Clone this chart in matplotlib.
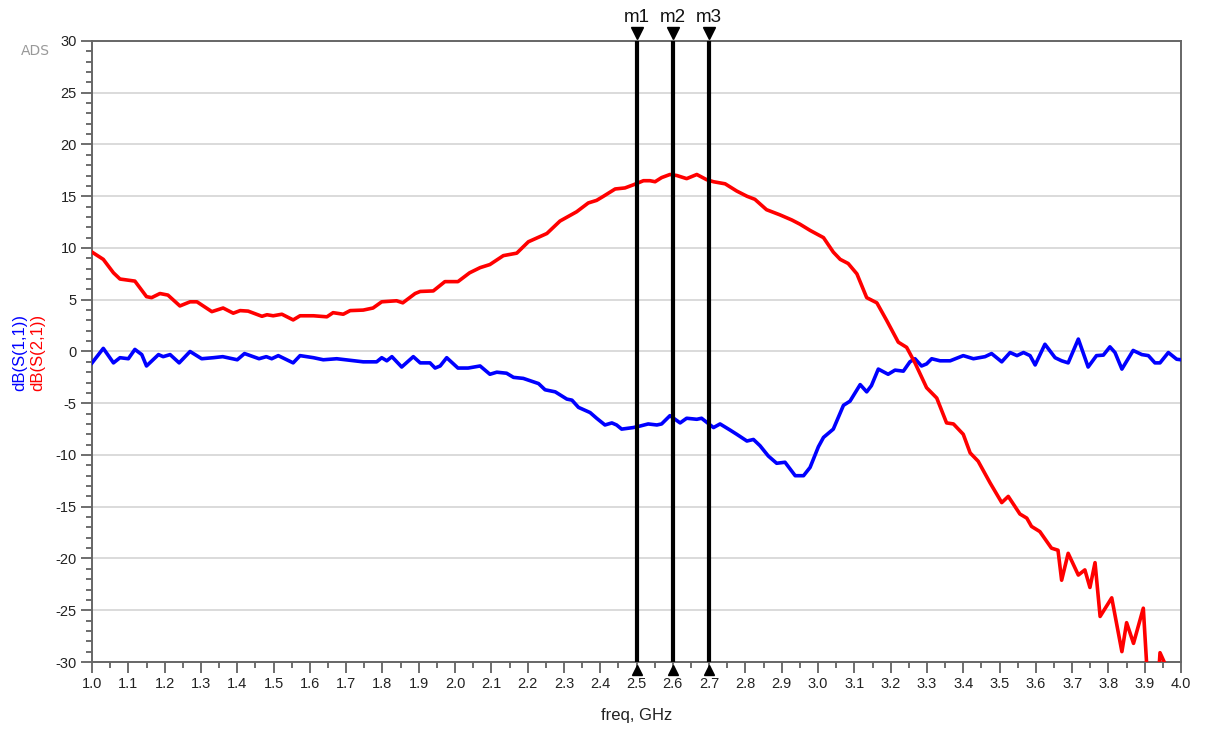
import matplotlib
matplotlib.use("Agg")
import matplotlib.pyplot as plt
import numpy as np

plt.rcParams['font.family'] = ['Liberation Sans', 'DejaVu Sans']
plt.rcParams['axes.unicode_minus'] = False

# dB(S(1,1)) - blue trace
f_s11 = [1.000, 1.031, 1.059, 1.077, 1.100, 1.118, 1.137, 1.150, 1.183, 1.196,
         1.215, 1.240, 1.270, 1.302, 1.334, 1.360, 1.400, 1.420, 1.460, 1.480,
         1.495, 1.513, 1.554, 1.573, 1.610, 1.637, 1.674, 1.747, 1.784, 1.798,
         1.812, 1.826, 1.853, 1.885, 1.904, 1.931, 1.945, 1.959, 1.977, 2.008,
         2.036, 2.069, 2.096, 2.115, 2.142, 2.161, 2.188, 2.230, 2.248, 2.276,
         2.308, 2.322, 2.340, 2.372, 2.390, 2.413, 2.432, 2.445, 2.459, 2.491,
         2.510, 2.532, 2.556, 2.569, 2.592, 2.620, 2.638, 2.666, 2.679, 2.712,
         2.730, 2.758, 2.776, 2.804, 2.822, 2.840, 2.863, 2.886, 2.909, 2.937,
         2.960, 2.978, 3.001, 3.015, 3.042, 3.070, 3.088, 3.116, 3.134, 3.147,
         3.166, 3.193, 3.212, 3.235, 3.253, 3.267, 3.285, 3.299, 3.313, 3.336,
         3.364, 3.400, 3.428, 3.460, 3.478, 3.506, 3.529, 3.548, 3.566, 3.584,
         3.598, 3.625, 3.653, 3.671, 3.689, 3.717, 3.744, 3.767, 3.786, 3.804,
         3.818, 3.837, 3.868, 3.892, 3.910, 3.928, 3.942, 3.965, 3.988, 4.000]
s11_db = [-1.1, 0.3, -1.1, -0.6, -0.7, 0.2, -0.3, -1.4, -0.3, -0.5,
          -0.3, -1.1, 0.0, -0.7, -0.6, -0.5, -0.8, -0.2, -0.7, -0.5,
          -0.7, -0.4, -1.1, -0.4, -0.6, -0.8, -0.7, -1.0, -1.0, -0.6,
          -0.9, -0.5, -1.5, -0.5, -1.1, -1.1, -1.6, -1.4, -0.6, -1.6,
          -1.6, -1.4, -2.2, -2.0, -2.1, -2.5, -2.6, -3.1, -3.7, -3.9,
          -4.6, -4.7, -5.4, -5.9, -6.45, -7.1, -6.9, -7.1, -7.5, -7.35,
          -7.2, -7.0, -7.1, -7.0, -6.2, -6.9, -6.45, -6.55, -6.45, -7.35,
          -7.0, -7.6, -8.0, -8.65, -8.5, -9.1, -10.1, -10.8, -10.7, -12.0,
          -12.0, -11.2, -9.2, -8.3, -7.5, -5.2, -4.8, -3.2, -3.9, -3.3,
          -1.7, -2.2, -1.8, -1.9, -1.0, -0.7, -1.4, -1.2, -0.7, -0.9,
          -0.9, -0.4, -0.7, -0.5, -0.2, -1.0, -0.1, -0.4, -0.1, -0.4,
          -1.3, 0.7, -0.6, -0.9, -1.1, 1.2, -1.5, -0.4, -0.35, 0.45,
          -0.1, -1.7, 0.1, -0.3, -0.4, -1.1, -1.1, -0.1, -0.75, -0.8]

# dB(S(2,1)) - red trace
f_s21 = [1.000, 1.031, 1.059, 1.077, 1.118, 1.150, 1.164, 1.187, 1.209, 1.242,
         1.270, 1.289, 1.330, 1.361, 1.389, 1.408, 1.430, 1.468, 1.482, 1.499,
         1.523, 1.554, 1.573, 1.610, 1.647, 1.664, 1.692, 1.711, 1.747, 1.774,
         1.798, 1.839, 1.856, 1.890, 1.904, 1.940, 1.972, 2.008, 2.040, 2.069,
         2.096, 2.133, 2.170, 2.202, 2.234, 2.253, 2.289, 2.335, 2.367, 2.390,
         2.409, 2.441, 2.468, 2.491, 2.519, 2.537, 2.551, 2.569, 2.592, 2.611,
         2.638, 2.666, 2.693, 2.712, 2.744, 2.776, 2.804, 2.826, 2.858, 2.895,
         2.928, 2.950, 2.978, 3.015, 3.042, 3.061, 3.083, 3.107, 3.134, 3.162,
         3.189, 3.221, 3.244, 3.267, 3.299, 3.327, 3.354, 3.373, 3.400, 3.419,
         3.441, 3.474, 3.506, 3.524, 3.556, 3.575, 3.588, 3.611, 3.643, 3.661,
         3.671, 3.689, 3.717, 3.735, 3.749, 3.763, 3.777, 3.809, 3.837, 3.850,
         3.869, 3.896, 3.910, 3.935, 3.942, 3.960]
s21_db = [9.6, 8.9, 7.6, 7.0, 6.8, 5.3, 5.2, 5.6, 5.45, 4.4,
          4.8, 4.8, 3.85, 4.2, 3.7, 3.95, 3.9, 3.4, 3.55, 3.45,
          3.6, 3.05, 3.45, 3.45, 3.35, 3.75, 3.6, 3.95, 4.0, 4.2,
          4.8, 4.9, 4.7, 5.6, 5.8, 5.85, 6.75, 6.75, 7.6, 8.1,
          8.4, 9.26, 9.5, 10.6, 11.1, 11.4, 12.6, 13.5, 14.35, 14.6,
          15.0, 15.7, 15.8, 16.1, 16.5, 16.5, 16.4, 16.8, 17.1, 17.0,
          16.7, 17.1, 16.6, 16.4, 16.2, 15.5, 15.0, 14.7, 13.7, 13.2,
          12.7, 12.3, 11.7, 11.0, 9.6, 8.9, 8.5, 7.5, 5.2, 4.7,
          3.0, 0.9, 0.4, -1.1, -3.5, -4.5, -6.9, -7.0, -8.0, -9.8,
          -10.6, -12.7, -14.6, -14.0, -15.7, -16.1, -16.9, -17.4, -19.0, -19.2,
          -22.1, -19.5, -21.6, -21.1, -22.8, -20.4, -25.6, -23.8, -29.0, -26.2,
          -28.2, -24.8, -33.0, -33.0, -29.1, -30.5]

markers = ["m1", "m2", "m3"]
marker_freqs = [2.5, 2.6, 2.7]

x_ticks = np.round(np.arange(1.0, 4.01, 0.1), 1)
y_ticks = np.arange(-30, 31, 5)

fig = plt.figure(figsize=(12.08, 7.29), dpi=100)
ax = fig.add_axes([0.0762, 0.0919, 0.9015, 0.8519])

ax.plot(f_s11, s11_db, color="#0000ff", lw=2.6, zorder=3)
ax.plot(f_s21, s21_db, color="#ff0000", lw=2.6, zorder=3)

for name, fm in zip(markers, marker_freqs):
    ax.axvline(fm, color="black", lw=3.0, zorder=4)
    ax.plot(fm, 30.75, marker="v", color="black", ms=9, clip_on=False, zorder=5)
    ax.plot(fm, -30.75, marker="^", color="black", ms=7, clip_on=False, zorder=5)
    ax.text(fm, 32.3, name, ha="center", va="center", fontsize=13.5, color="#111111")

ax.set_xlim(1.0, 4.0)
ax.set_ylim(-30, 30)
ax.set_xticks(x_ticks)
ax.set_xticklabels([f"{t:.1f}" for t in x_ticks])
ax.set_xticks(np.arange(1.05, 4.0, 0.1), minor=True)
ax.set_yticks(y_ticks)
ax.set_yticks(np.arange(-30, 31, 1), minor=True)

ax.grid(axis="y", which="major", color="#d4d4d4", lw=1.2)
ax.set_axisbelow(True)

for sp in ax.spines.values():
    sp.set_color("#666666")
    sp.set_linewidth(1.4)

ax.tick_params(which="major", length=8, width=1.2, color="#555555",
               labelsize=10.5, labelcolor="#222222", pad=3)
ax.tick_params(which="minor", length=4.5, width=1.2, color="#555555")

ax.set_xlabel("freq, GHz", fontsize=12, color="#222222", labelpad=12)

fig.text(0.016, 0.517, "dB(S(1,1))", rotation=90, color="#0000ff",
         fontsize=12, ha="center", va="center")
fig.text(0.031, 0.517, "dB(S(2,1))", rotation=90, color="#ff0000",
         fontsize=12, ha="center", va="center")
fig.text(0.029, 0.930, "ADS", color="#999999", fontsize=10,
         ha="center", va="center", family="DejaVu Sans Condensed")

fig.savefig("out.png", dpi=100)
